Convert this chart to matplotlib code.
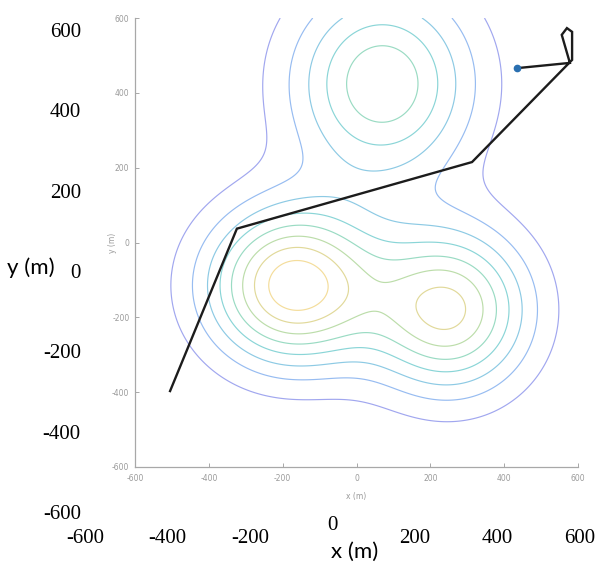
import numpy as np
import matplotlib
matplotlib.use("Agg")
import matplotlib.pyplot as plt
from matplotlib.colors import LinearSegmentedColormap, Normalize
from matplotlib.transforms import ScaledTranslation

# ---------------- data ----------------
tick_values = [-600, -400, -200, 0, 200, 400, 600]
tick_labels = ['-600', '-400', '-200', '0', '200', '400', '600']

# three hills of the cost field
peak_x = [70, -170, 250]
peak_y = [425, -115, -180]
peak_amp = [5.85, 8.7, 7.2]
peak_sx = [172, 160, 150]
peak_sy = [180, 145, 150]
contour_levels = [1, 2, 3, 4, 5, 6, 7, 8]

# flight path waypoints
path_x = [435, 578, 556, 570, 584, 584, 313, -324, -505]
path_y = [466, 480, 555, 573, 563, 488, 215, 37, -397]

# ---------------- figure ----------------
W, H = 603, 563
fig = plt.figure(figsize=(W / 100, H / 100), dpi=100)


def fx(px):
    return px / W


def fy(py):
    return 1 - py / H


# parula-like colormap, faded like the reference
parula_pts = [(0.242, 0.150, 0.660), (0.277, 0.300, 0.940), (0.200, 0.470, 0.990),
              (0.120, 0.590, 0.880), (0.050, 0.690, 0.800), (0.080, 0.740, 0.680),
              (0.280, 0.790, 0.500), (0.560, 0.790, 0.300), (0.850, 0.750, 0.200),
              (0.990, 0.780, 0.220), (0.977, 0.984, 0.081)]
fade = 0.45
faded = [tuple(fade * c + (1 - fade) * 0.93 for c in p) for p in parula_pts]
cmap = LinearSegmentedColormap.from_list('parula_faded', faded)

# ---- inner (MATLAB) axes ----
ax = fig.add_axes([fx(135), fy(467), (578 - 135) / W, (467 - 18) / H], facecolor='none')
grid = np.linspace(-600, 600, 361)
X, Y = np.meshgrid(grid, grid)
Z = np.zeros_like(X)
for cx, cy, a, sx, sy in zip(peak_x, peak_y, peak_amp, peak_sx, peak_sy):
    Z += a * np.exp(-((X - cx) ** 2 / (2 * sx ** 2) + (Y - cy) ** 2 / (2 * sy ** 2)))
ax.contour(X, Y, Z, levels=contour_levels, cmap=cmap,
           norm=Normalize(vmin=0, vmax=Z.max()), linewidths=0.85)
ax.plot(path_x, path_y, color='#1c1c1c', lw=1.7, solid_joinstyle='miter', zorder=3)
ax.plot(path_x[0], path_y[0], 'o', color='#2a6fb0', ms=4.5, zorder=4)
ax.set_xlim(-600, 600)
ax.set_ylim(-600, 600)
for s in ['top', 'right']:
    ax.spines[s].set_visible(False)
for s in ['left', 'bottom']:
    ax.spines[s].set_color('#a8a8a8')
    ax.spines[s].set_linewidth(0.9)
ax.set_xticks(tick_values, tick_labels)
ax.set_yticks(tick_values, tick_labels)
ax.tick_params(direction='in', length=3, width=0.7, color='#a8a8a8',
               labelsize=5.5, labelcolor='#9a9a9a')
ax.tick_params(axis='x', pad=5)
ax.tick_params(axis='y', pad=4)
ax.set_xlabel('x (m)', fontsize=5.5, color='#9a9a9a')
ax.set_ylabel('y (m)', fontsize=5.5, color='#9a9a9a')
ax.xaxis.set_label_coords(0.5, -0.056)
ax.yaxis.set_label_coords(-0.041, 0.5)

# ---- outer overlay axes with large labels ----
ax2 = fig.add_axes([fx(85), fy(512), (580 - 85) / W, (512 - 30) / H], facecolor='none')
ax2.set_xlim(-600, 600)
ax2.set_ylim(-600, 600)
for s in ax2.spines.values():
    s.set_visible(False)
ax2.set_xticks(tick_values, tick_labels)
ax2.set_yticks(tick_values, tick_labels)
ax2.tick_params(length=0, labelsize=15)
ax2.tick_params(axis='x', pad=12)
ax2.tick_params(axis='y', pad=3)
for lab in ax2.get_xticklabels() + ax2.get_yticklabels():
    lab.set_fontfamily('Liberation Serif')
# the "0" on the x row sits a little higher in the reference
zero_lab = ax2.xaxis.get_major_ticks()[3].label1
zero_lab.set_transform(zero_lab.get_transform() +
                       ScaledTranslation(0, 9 / 72, fig.dpi_scale_trans))
ax2.set_xlabel('x (m)', fontsize=16, fontfamily='Lato')
ax2.set_ylabel('y (m)', fontsize=16, fontfamily='Lato', rotation=0)
ax2.xaxis.label.set_va('center')
ax2.yaxis.label.set_va('center')
ax2.yaxis.label.set_ha('center')
ax2.xaxis.set_label_coords(0.545, -0.083)
ax2.yaxis.set_label_coords(-0.109, 0.506)
ax2.set_zorder(0)
ax.set_zorder(1)

fig.savefig('out.png', dpi=100)
